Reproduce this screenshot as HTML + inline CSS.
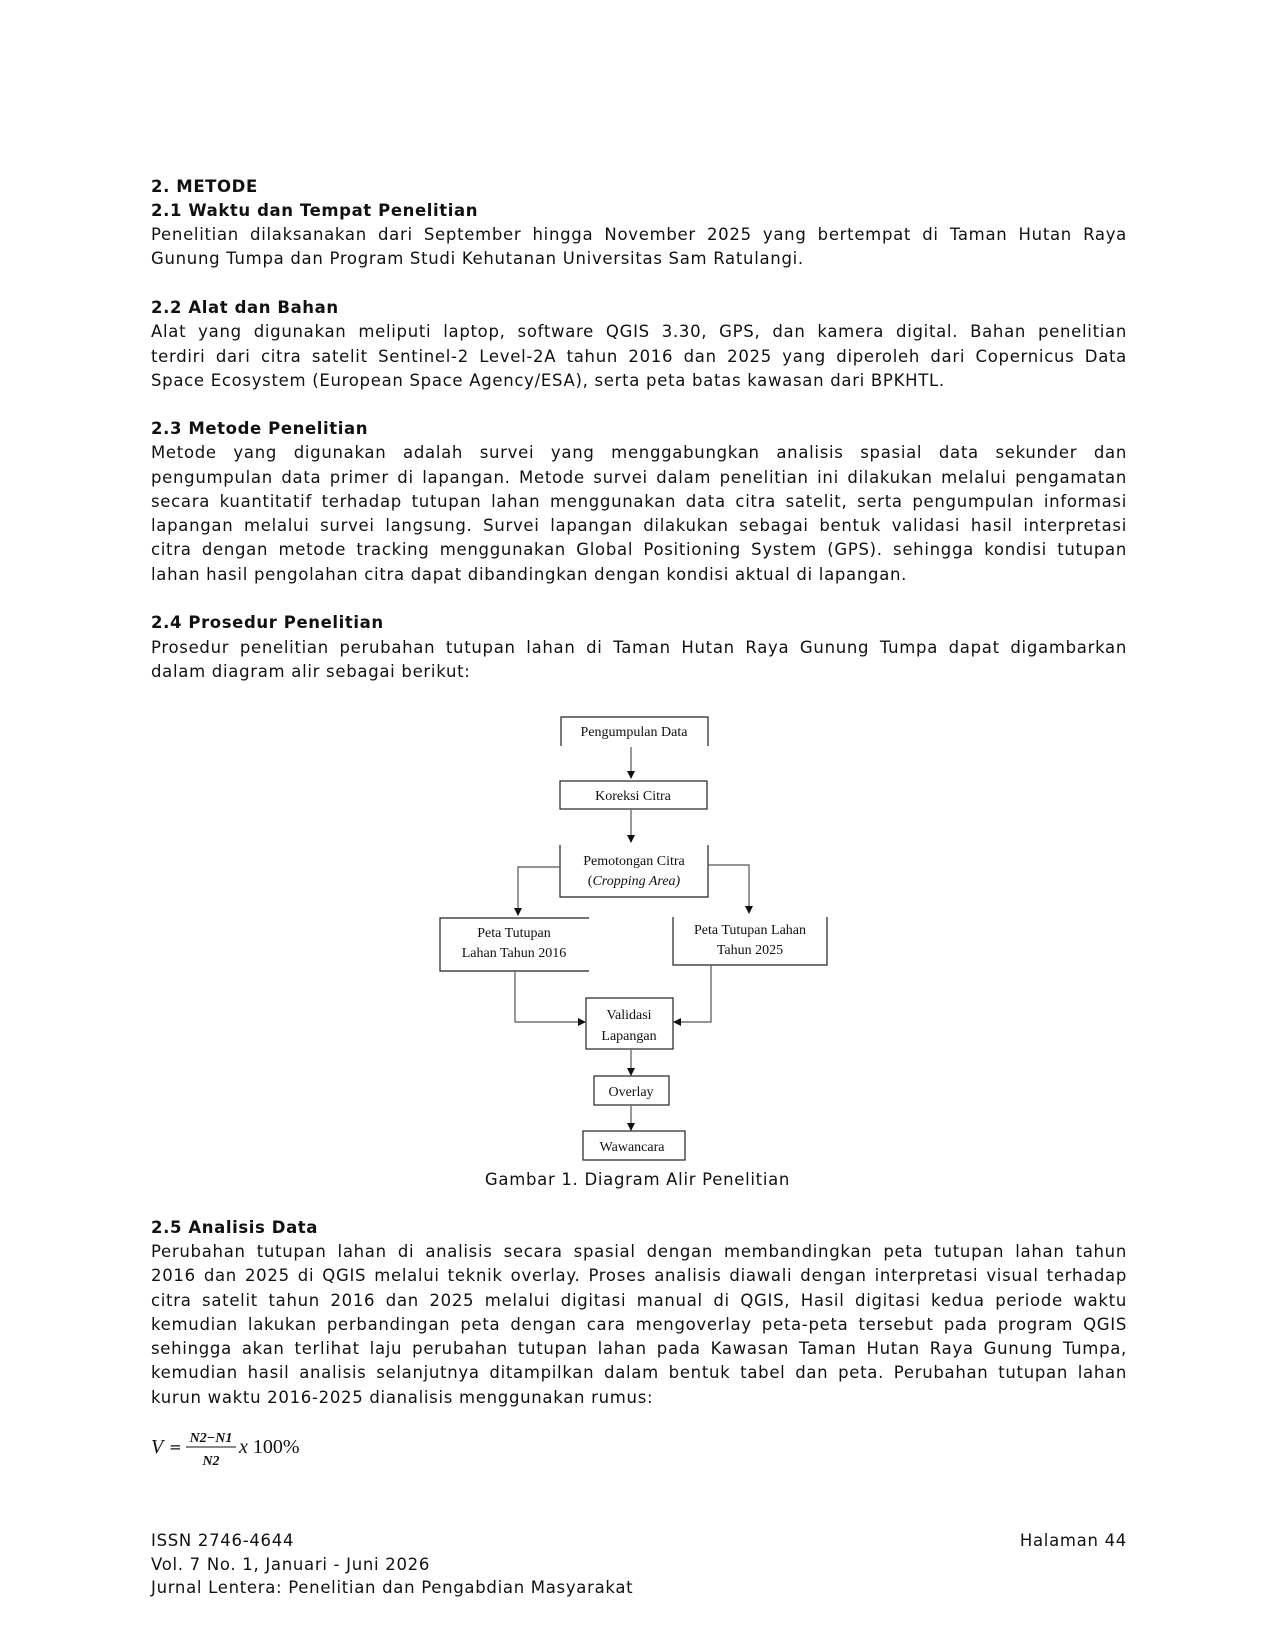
<!DOCTYPE html>
<html><head><meta charset="utf-8"><style>
body{margin:0;background:#fff;}
#p{position:relative;width:1275px;height:1650px;overflow:hidden;background:#fff;font-family:"DejaVu Sans","Liberation Sans",sans-serif;font-size:16.5px;color:#111;}
.l{position:absolute;left:151px;width:976px;height:24px;line-height:24px;white-space:nowrap;letter-spacing:0.7px;}
.j{text-align:justify;text-align-last:justify;}
.b{font-weight:bold;letter-spacing:0.6px;}
svg text{font-family:"Liberation Serif",serif;font-size:14px;fill:#111;}
</style></head><body><div id="p">
<div class="l b" style="top:175px">2. METODE</div>
<div class="l b" style="top:199px">2.1 Waktu dan Tempat Penelitian</div>
<div class="l j" style="top:223px">Penelitian dilaksanakan dari September hingga November 2025 yang bertempat di Taman Hutan Raya</div>
<div class="l" style="top:247px">Gunung Tumpa dan Program Studi Kehutanan Universitas Sam Ratulangi.</div>

<div class="l b" style="top:296px">2.2 Alat dan Bahan</div>
<div class="l j" style="top:320px">Alat yang digunakan meliputi laptop, software QGIS 3.30, GPS, dan kamera digital. Bahan penelitian</div>
<div class="l j" style="top:345px">terdiri dari citra satelit Sentinel-2 Level-2A tahun 2016 dan 2025 yang diperoleh dari Copernicus Data</div>
<div class="l" style="top:369px">Space Ecosystem (European Space Agency/ESA), serta peta batas kawasan dari BPKHTL.</div>

<div class="l b" style="top:417px">2.3 Metode Penelitian</div>
<div class="l j" style="top:441px">Metode yang digunakan adalah survei yang menggabungkan analisis spasial data sekunder dan</div>
<div class="l j" style="top:466px">pengumpulan data primer di lapangan. Metode survei dalam penelitian ini dilakukan melalui pengamatan</div>
<div class="l j" style="top:490px">secara kuantitatif terhadap tutupan lahan menggunakan data citra satelit, serta pengumpulan informasi</div>
<div class="l j" style="top:514px">lapangan melalui survei langsung. Survei lapangan dilakukan sebagai bentuk validasi hasil interpretasi</div>
<div class="l j" style="top:538px">citra dengan metode tracking menggunakan Global Positioning System (GPS). sehingga kondisi tutupan</div>
<div class="l" style="top:563px">lahan hasil pengolahan citra dapat dibandingkan dengan kondisi aktual di lapangan.</div>

<div class="l b" style="top:611px">2.4 Prosedur Penelitian</div>
<div class="l j" style="top:636px">Prosedur penelitian perubahan tutupan lahan di Taman Hutan Raya Gunung Tumpa dapat digambarkan</div>
<div class="l" style="top:660px">dalam diagram alir sebagai berikut:</div>

<svg style="position:absolute;left:-3px;top:-3px" width="1275" height="1650">
<defs><marker id="a" markerWidth="8" markerHeight="8" refX="7" refY="4" orient="auto" markerUnits="userSpaceOnUse"><path d="M0,0 L8,4 L0,8 z" fill="#111"/></marker></defs>
<g stroke="#222" stroke-width="1.2" fill="none">
<path d="M564,749 V720 H711 V749"/>
<rect x="563" y="784" width="147" height="28"/>
<path d="M563,848 V900 H711 V848"/>
<path d="M592,921 H443 V974 H592"/>
<path d="M676,920 V968 H830 V920"/>
<rect x="589" y="1001" width="87" height="51"/>
<rect x="597" y="1079" width="75" height="29"/>
<rect x="586" y="1134" width="102" height="29"/>
<g stroke="#555">
<path d="M634,750 V781" marker-end="url(#a)"/>
<path d="M634,813 V845" marker-end="url(#a)"/>
<path d="M563,870 H521 V918" marker-end="url(#a)"/>
<path d="M711,868 H752 V916" marker-end="url(#a)"/>
<path d="M518,974 V1025 H588" marker-end="url(#a)"/>
<path d="M714,968 V1025 H677" marker-end="url(#a)"/>
<path d="M634,1053 V1078" marker-end="url(#a)"/>
<path d="M634,1109 V1133" marker-end="url(#a)"/>
</g></g>
<text x="637" y="739" text-anchor="middle">Pengumpulan Data</text>
<text x="636" y="803" text-anchor="middle">Koreksi Citra</text>
<text x="637" y="868" text-anchor="middle">Pemotongan Citra</text>
<text x="637" y="888" text-anchor="middle">(<tspan font-style="italic">Cropping Area)</tspan></text>
<text x="517" y="940" text-anchor="middle">Peta Tutupan</text>
<text x="517" y="960" text-anchor="middle">Lahan Tahun 2016</text>
<text x="753" y="937" text-anchor="middle">Peta Tutupan Lahan</text>
<text x="753" y="957" text-anchor="middle">Tahun 2025</text>
<text x="632" y="1022" text-anchor="middle">Validasi</text>
<text x="632" y="1043" text-anchor="middle">Lapangan</text>
<text x="634" y="1099" text-anchor="middle">Overlay</text>
<text x="635" y="1154" text-anchor="middle">Wawancara</text>
</svg>

<div class="l" style="top:1168px;left:0;width:1275px;text-align:center;">Gambar 1. Diagram Alir Penelitian</div>

<div class="l b" style="top:1216px">2.5 Analisis Data</div>
<div class="l j" style="top:1240px">Perubahan tutupan lahan di analisis secara spasial dengan membandingkan peta tutupan lahan tahun</div>
<div class="l j" style="top:1264px">2016 dan 2025 di QGIS melalui teknik overlay. Proses analisis diawali dengan interpretasi visual terhadap</div>
<div class="l j" style="top:1289px">citra satelit tahun 2016 dan 2025 melalui digitasi manual di QGIS, Hasil digitasi kedua periode waktu</div>
<div class="l j" style="top:1313px">kemudian lakukan perbandingan peta dengan cara mengoverlay peta-peta tersebut pada program QGIS</div>
<div class="l j" style="top:1337px">sehingga akan terlihat laju perubahan tutupan lahan pada Kawasan Taman Hutan Raya Gunung Tumpa,</div>
<div class="l j" style="top:1361px">kemudian hasil analisis selanjutnya ditampilkan dalam bentuk tabel dan peta. Perubahan tutupan lahan</div>
<div class="l" style="top:1386px">kurun waktu 2016-2025 dianalisis menggunakan rumus:</div>

<svg style="position:absolute;left:140px;top:1420px" width="200" height="60">
<text x="11" y="33" style="font-family:'Liberation Serif',serif;font-style:italic;font-size:20px">V</text>
<text x="29" y="32" style="font-family:'DejaVu Sans',sans-serif;font-size:15px">=</text>
<text x="71" y="22" text-anchor="middle" style="font-family:'Liberation Serif',serif;font-style:italic;font-size:14px;font-weight:bold">N2−N1</text>
<line x1="46" y1="27" x2="96" y2="27" stroke="#111" stroke-width="1"/>
<text x="71" y="45" text-anchor="middle" style="font-family:'Liberation Serif',serif;font-style:italic;font-size:14px;font-weight:bold">N2</text>
<text x="99" y="33" style="font-family:'Liberation Serif',serif;font-size:20px"><tspan font-style="italic">x</tspan> 100%</text>
</svg>

<div class="l" style="top:1529px">ISSN 2746-4644</div>
<div class="l" style="top:1529px;text-align:right">Halaman 44</div>
<div class="l" style="top:1553px">Vol. 7 No. 1, Januari - Juni 2026</div>
<div class="l" style="top:1576px">Jurnal Lentera: Penelitian dan Pengabdian Masyarakat</div>
</div></body></html>
